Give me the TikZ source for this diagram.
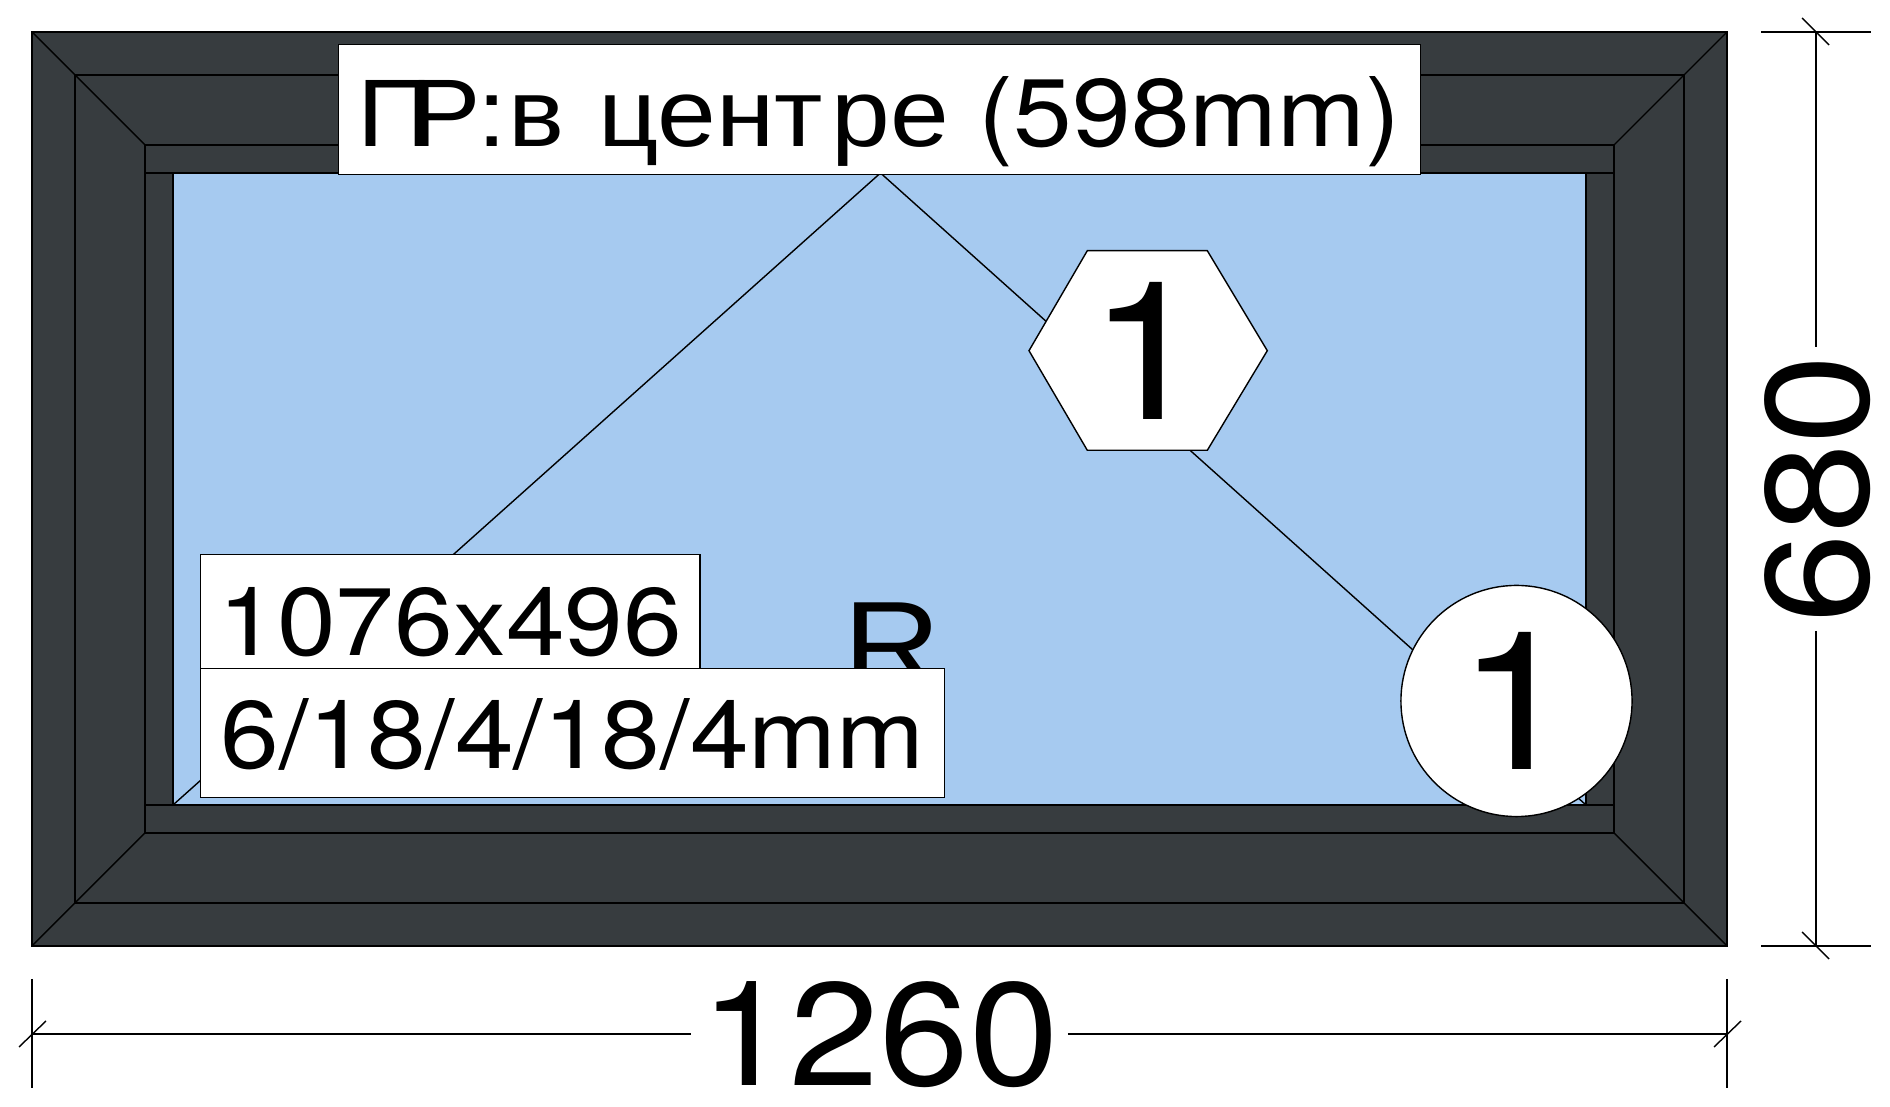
\documentclass[tikz,border=0pt]{standalone}
\usepackage{fontspec}
\setmainfont{Liberation Sans}
\newfontfamily\winfont[FakeStretch=1.1]{Liberation Sans}
\newfontfamily\digfont[FakeStretch=1.1]{TeX Gyre Heros}
\definecolor{framegray}{HTML}{373C3F}
\definecolor{glassblue}{HTML}{A6CAF0}
\tikzstyle{seam} = [draw=black, line width=0.4pt]
\tikzstyle{profile} = [seam, fill=framegray]
\tikzstyle{glass} = [seam, fill=glassblue]
\tikzstyle{plate} = [rectangle, draw=black, line width=0.4pt, fill=white, inner sep=0pt, text centered]
\tikzstyle{dimtext} = [inner sep=0pt, text centered]
\newcommand{\winsize}[1]{\fontsize{#1}{#1}\selectfont}

\begin{document}
\begin{tikzpicture}[x=0.01cm, y=-0.01cm]
	\useasboundingbox (0,0) rectangle (1890,1107);
	% frame
	\draw[profile] (32,32) rectangle (1727,946);
	\draw[seam] (75,75) rectangle (1684,903);
	\draw[seam] (145,145) rectangle (1614,833);
	\draw[seam] (145,173) rectangle (1614,805);
	\draw[glass] (173,173) rectangle (1586,805);
	\draw[seam] (32,32) -- (145,145) (1727,32) -- (1614,145);
	\draw[seam] (32,946) -- (145,833) (1727,946) -- (1614,833);

	% opening lines
	\coordinate (apex) at (880.5,173);
	\coordinate (lowleft) at (173,805);
	\coordinate (lowright) at (1586,805);
	\draw[seam] (lowleft) -- (apex) -- (lowright);

	% labels
	\node (handle) [plate, minimum width=10.81cm, minimum height=1.30cm, text height=0.85cm, text depth=0.12cm] at (879.5,109.5)
		{\winsize{27.3pt}\winfont П\kern-6.8pt Р\kern-0.8pt :\kern0.6pt в \kern1.1pt цент\kern2.5pt ре \digfont(598mm)};
	\node (sashtype) at (892,645) {\winsize{35pt}\winfont R};
	\node (glasssize) [plate, minimum width=4.99cm, minimum height=1.14cm, text height=0.87cm, text depth=0cm] at (450.3,611.5) {\winsize{27.3pt}\digfont 1076x496};
	\node (glasstype) [plate, minimum width=7.44cm, minimum height=1.29cm, text height=0.70cm, text depth=0cm] at (572.5,733) {\winsize{27.3pt}\digfont 6/18/4/18/4mm};

	\draw[seam, fill=white] (1087.3,250.7) -- (1207.3,250.7) -- (1267.3,350.7) -- (1207.3,450.3) -- (1087.3,450.3) -- (1029,350.7) -- cycle;
	\node (sashno) at (1148,350.5) {\winsize{55pt}\digfont 1};
	\node (frameno) [circle, draw=black, line width=0.4pt, fill=white, inner sep=0pt, minimum size=2.31cm] at (1516.5,701) {\winsize{55pt}\digfont 1};

	% dimensions
	\node (width) [dimtext, minimum width=3.75cm] at (879.5,1035) {\winsize{41.7pt}\digfont 1260};
	\node (height) [dimtext, rotate=90, minimum width=2.82cm] at (1817.5,489) {\winsize{41.7pt}\digfont 680};
	\coordinate (wl) at (32,1034);
	\coordinate (wr) at (1727,1034);
	\coordinate (ht) at (1816,32);
	\coordinate (hb) at (1816,946);
	\draw[seam] (wl) -- (wl -| width.west);
	\draw[seam] (wr -| width.east) -- (wr);
	\draw[seam] (ht) -- (ht |- height.east);
	\draw[seam] (hb |- height.west) -- (hb);
	\foreach \xx in {32,1727} {
		\draw[seam] (\xx,979) -- (\xx,1088);
		\draw[seam] (\xx-13,1047) -- (\xx+14,1021);
	}
	\foreach \yy in {32,946} {
		\draw[seam] (1761,\yy) -- (1871,\yy);
		\draw[seam] (1802,\yy-14) -- (1829,\yy+13);
	}
\end{tikzpicture}
\end{document}
